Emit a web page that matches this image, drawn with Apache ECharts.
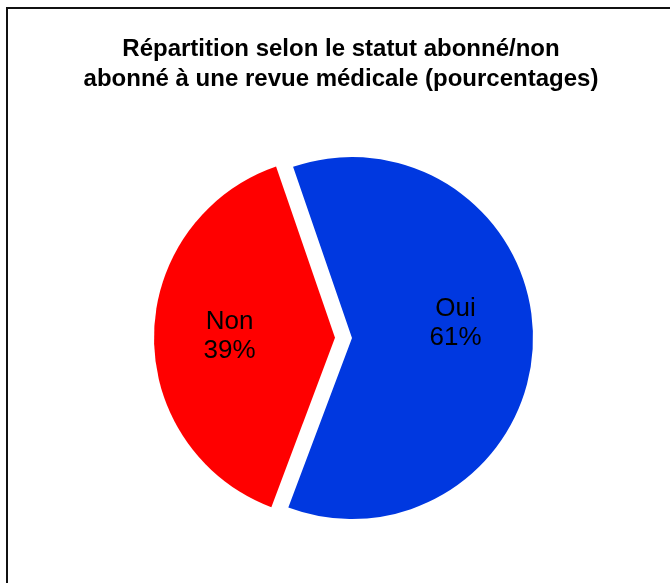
<!DOCTYPE html>
<html>
<head>
<meta charset="utf-8">
<script src="https://cdn.jsdelivr.net/npm/echarts@6/dist/echarts.min.js"></script>
<style>html,body{margin:0;padding:0;background:#fff;}#c{width:670px;height:583px;}</style>
</head>
<body>
<div id="c"></div>
<script>
const categories = ['Oui', 'Non'];
const values = [61, 39];
const colors = ['#0038E0', '#FF0000'];
const titleText = 'Répartition selon le statut abonné/non\nabonné à une revue médicale (pourcentages)';

const chart = echarts.init(document.getElementById('c'), null, {renderer: 'canvas'});
const labelOffsets = [[10, -16], [-23, 1]];
const labelPadding = [[0, 0, 0, 0], [0, 24, 0, 0]];
chart.setOption({
  animation: false,
  backgroundColor: '#fff',
  title: {
    text: titleText,
    left: 336,
    textAlign: 'center',
    top: 29,
    textStyle: {fontFamily: 'Liberation Sans, Arial, sans-serif', fontSize: 24, fontWeight: 'bold', color: '#000', lineHeight: 30}
  },
  graphic: [{
    type: 'rect',
    shape: {x: 7, y: 8, width: 700, height: 620},
    style: {fill: 'none', stroke: '#111', lineWidth: 2},
    silent: true
  }],
  series: [{
    type: 'pie',
    center: [352, 338],
    radius: 181,
    startAngle: 109,
    clockwise: true,
    selectedMode: 'single',
    selectedOffset: 17,
    silent: true,
    label: {
      position: 'inner',
      fontFamily: 'Liberation Sans, Arial, sans-serif',
      fontSize: 26,
      lineHeight: 29,
      color: '#000',
      formatter: p => p.name + '\n' + p.value + '%'
    },
    labelLine: {show: false},
    emphasis: {disabled: true},
    data: categories.map((c, i) => ({
      name: c,
      value: values[i],
      selected: i === 1,
      itemStyle: {color: colors[i]},
      label: {offset: labelOffsets[i], padding: labelPadding[i]}
    }))
  }]
});
</script>
</body>
</html>
